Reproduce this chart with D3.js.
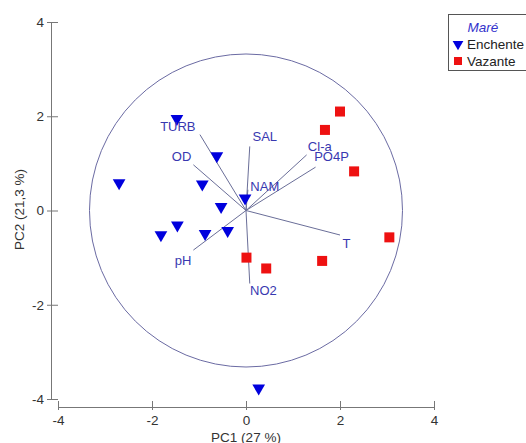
<!DOCTYPE html>
<html><head><meta charset="utf-8">
<script src="https://cdn.jsdelivr.net/npm/d3@7"></script>
<style>body{margin:0;background:#fff}svg{display:block;font-family:"Liberation Sans",Arial,sans-serif}</style>
</head><body><svg id="c" width="526" height="443"></svg>
<script>
const xTicks = [-4, -2, 0, 2, 4];
const yTicks = [-4, -2, 0, 2, 4];
const enchenteX = [-1.47, -2.70, -0.62, -0.93, -0.02, -0.53, -1.46, -1.81, -0.87, -0.39, 0.27];
const enchenteY = [1.95, 0.585, 1.16, 0.56, 0.26, 0.08, -0.31, -0.52, -0.49, -0.43, -3.77];
const vazanteX = [2.00, 1.68, 2.30, 0.01, 0.43, 1.62, 3.05];
const vazanteY = [2.10, 1.71, 0.83, -1.00, -1.23, -1.07, -0.57];
const varNames = ["TURB", "OD", "SAL", "Cl-a", "PO4P", "NAM", "T", "pH", "NO2"];
const varX = [-0.98, -1.12, 0.08, 1.29, 1.48, 0.04, 2.00, -1.12, 0.08];
const varY = [1.61, 0.97, 1.36, 1.18, 0.92, 0.44, -0.52, -0.84, -1.55];
const labelX = [-1.45, -1.37, 0.40, 1.57, 1.82, 0.40, 2.14, -1.34, 0.37];
const labelY = [1.79, 1.15, 1.57, 1.36, 1.14, 0.50, -0.69, -1.05, -1.70];
const circleR = 3.33;
const legendItems = ["Enchente", "Vazante"];

const svg = d3.select("#c");
const x = d3.scaleLinear().domain([-4, 4]).range([58, 434]);
const y = d3.scaleLinear().domain([-4, 4]).range([399, 22]);
const axisColor = "#777";
const fmt = d => String(d);

// X axis
const gx = svg.append("g").attr("transform", "translate(0,407)")
  .call(d3.axisBottom(x).tickValues(xTicks).tickSize(0).tickPadding(8).tickFormat(fmt));
gx.select(".domain").attr("stroke", axisColor);
gx.selectAll(".tick").append("line").attr("y1", -6).attr("y2", 3).attr("stroke", axisColor);
gx.selectAll("text").attr("font-size", 13.5).attr("fill", "#333").attr("font-family", "Liberation Sans, Arial, sans-serif");

// Y axis
const gy = svg.append("g").attr("transform", "translate(51,0)")
  .call(d3.axisLeft(y).tickValues(yTicks).tickSize(0).tickPadding(7).tickFormat(fmt));
gy.select(".domain").attr("stroke", axisColor);
gy.selectAll(".tick").append("line").attr("x1", -4).attr("x2", 7).attr("stroke", axisColor);
gy.selectAll("text").attr("font-size", 13.5).attr("fill", "#333").attr("font-family", "Liberation Sans, Arial, sans-serif");

svg.append("text").attr("x", x(0)).attr("y", 442).attr("text-anchor", "middle")
  .attr("font-size", 13.5).attr("fill", "#333").text("PC1 (27 %)");
svg.append("text").attr("transform", `translate(24,${y(0) - 1}) rotate(-90)`).attr("text-anchor", "middle")
  .attr("font-size", 13.5).attr("fill", "#333").text("PC2 (21,3 %)");

// Circle
svg.append("circle").attr("cx", x(0)).attr("cy", y(0)).attr("r", x(circleR) - x(0))
  .attr("fill", "none").attr("stroke", "#6b6ba3").attr("stroke-width", 1);

// Vectors
varNames.forEach((n, i) => {
  svg.append("line").attr("x1", x(0)).attr("y1", y(0)).attr("x2", x(varX[i])).attr("y2", y(varY[i]))
    .attr("stroke", "#6a6e98").attr("stroke-width", 1);
});

// Points
const tri = d3.symbol().type(d3.symbolTriangle).size(70);
enchenteX.forEach((v, i) => {
  svg.append("path").attr("d", tri).attr("fill", "#0000dd")
    .attr("transform", `translate(${x(v)},${y(enchenteY[i])}) rotate(180)`);
});
vazanteX.forEach((v, i) => {
  svg.append("rect").attr("x", x(v) - 5).attr("y", y(vazanteY[i]) - 5).attr("width", 10).attr("height", 10)
    .attr("fill", "#ee1111");
});

// Variable labels
varNames.forEach((n, i) => {
  svg.append("text").attr("x", x(labelX[i])).attr("y", y(labelY[i])).attr("dy", "0.35em")
    .attr("text-anchor", "middle").attr("font-size", 13).attr("fill", "#3838b0").text(n);
});

// Legend
const lg = svg.append("g");
lg.append("rect").attr("x", 448.5).attr("y", 14.5).attr("width", 80).attr("height", 56)
  .attr("fill", "#fff").attr("stroke", "#555");
lg.append("text").attr("x", 483).attr("y", 27).attr("dy", "0.35em").attr("text-anchor", "middle")
  .attr("font-size", 13.5).attr("font-style", "italic").attr("fill", "#3333cc").text("Maré");
legendItems.forEach((n, i) => {
  const cy = 44 + i * 17;
  if (i === 0) {
    lg.append("path").attr("d", d3.symbol().type(d3.symbolTriangle).size(50))
      .attr("fill", "#0000dd").attr("transform", `translate(458,${cy}) rotate(180)`);
  } else {
    lg.append("rect").attr("x", 454).attr("y", cy - 4).attr("width", 8).attr("height", 8).attr("fill", "#ee1111");
  }
  lg.append("text").attr("x", 467).attr("y", cy).attr("dy", "0.35em").attr("font-size", 13.5)
    .attr("fill", "#222").text(n);
});
</script></body></html>
